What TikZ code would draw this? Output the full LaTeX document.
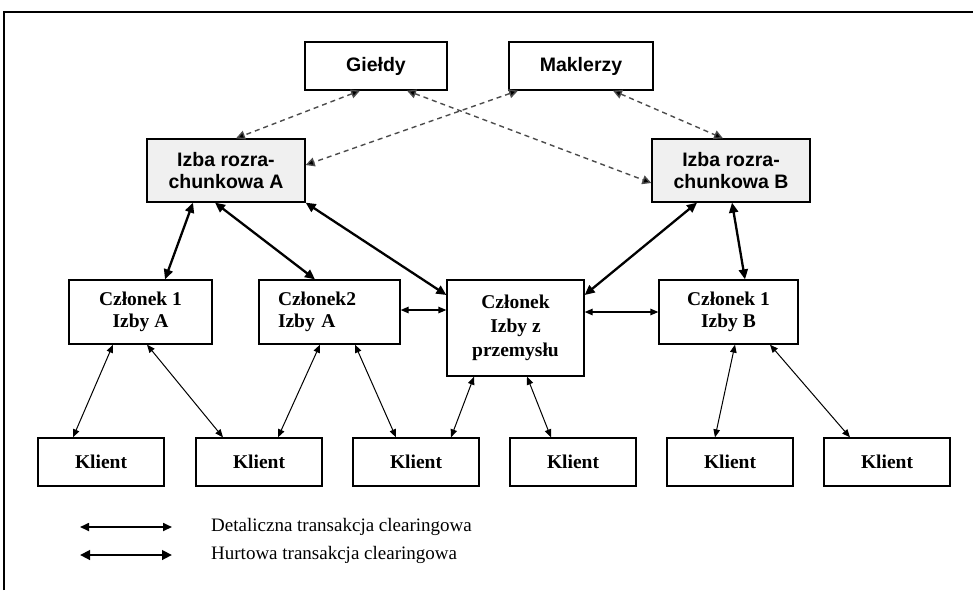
\documentclass[tikz,border=0pt]{standalone}
\usepackage{fontspec}
\setmainfont{Liberation Serif}
\newfontfamily\sansfont{Liberation Sans}
\usetikzlibrary{arrows.meta,calc}
\begin{document}
\begin{tikzpicture}[x=1pt,y=-1pt,
  box/.style={draw,line width=1.3pt,inner sep=0pt,align=center,font=\fontsize{19.5}{21.5}\selectfont\bfseries},
  topbox/.style={box,font=\sansfont\fontsize{19.5}{22}\selectfont\bfseries},
  izbabox/.style={topbox,fill=gray!12},
  klient/.style={box,minimum width=126pt,minimum height=48pt},
  thinarr/.style={line width=1pt,{Triangle[length=8pt,width=6.5pt]}-{Triangle[length=8pt,width=6.5pt]}},
  thickarr/.style={line width=2.3pt,{Triangle[length=10pt,width=9pt]}-{Triangle[length=10pt,width=9pt]}},
  dasharr/.style={line width=1.4pt,draw=black!70,dash pattern=on 5pt off 4pt,{Triangle[length=9pt,width=9pt,fill=black]}-{Triangle[length=9pt,width=9pt,fill=black]}},
]
\useasboundingbox (0,0) rectangle (973,590);
\draw[line width=1.5pt] (4,590) -- (4,12) -- (973,12);

% top
\node[topbox,minimum width=142pt,minimum height=48pt] (gieldy) at (376,66) {Giełdy};
\node[topbox,minimum width=144pt,minimum height=48pt] (maklerzy) at (581,66) {Maklerzy};
\node[izbabox,minimum width=158pt,minimum height=63pt] (izbaA) at (226,170.5) {Izba rozra-\\chunkowa A};
\node[izbabox,minimum width=158pt,minimum height=63pt] (izbaB) at (731,170.5) {Izba rozra-\\chunkowa B};

% members
\node[box,minimum width=143pt,minimum height=64pt] (c1a) at (140.5,312) {Członek 1\\Izby A};
\node[box,align=left,text width=103pt,inner xsep=19pt,minimum height=64pt] (c2a) at (329.5,312) {Członek2\\Izby A};
\node[box,minimum width=137pt,minimum height=96pt,font=\fontsize{19.5}{24}\selectfont\bfseries] (cp) at (515.5,328) {Członek\\Izby z\\przemysłu};
\node[box,minimum width=139pt,minimum height=64pt] (c1b) at (728.5,312) {Członek 1\\Izby B};

% clients
\node[klient] (k1) at (101,462) {Klient};
\node[klient] (k2) at (259,462) {Klient};
\node[klient] (k3) at (416,462) {Klient};
\node[klient] (k4) at (573,462) {Klient};
\node[klient] (k5) at (730,462) {Klient};
\node[klient] (k6) at (887,462) {Klient};

% dashed
\draw[dasharr] ($(gieldy.south)+(-16,0)$) -- ($(izbaA.north)+(10,0)$);
\draw[dasharr] ($(gieldy.south)+(31,0)$) -- ($(izbaB.west)+(0,12.5)$);
\draw[dasharr] ($(maklerzy.south)+(-63,0)$) -- ($(izbaA.east)+(0,-5.5)$);
\draw[dasharr] ($(maklerzy.south)+(32,0)$) -- ($(izbaB.north)+(-8,0)$);

% thick
\draw[thickarr] ($(izbaA.south)+(-33,0)$) -- ($(c1a.north)+(24.5,0)$);
\draw[thickarr] ($(izbaA.south)+(-11,0)$) -- ($(c2a.north)+(-14.5,0)$);
\draw[thickarr] (izbaA.south east) -- ($(cp.west)+(0,-33)$);
\draw[thickarr] ($(izbaB.south)+(-34,0)$) -- ($(cp.east)+(0,-33)$);
\draw[thickarr] ($(izbaB.south)+(1,0)$) -- ($(c1b.north)+(16.5,0)$);

% horizontal
\draw[thinarr,line width=1.3pt] ($(c2a.east)+(0,-2)$) -- ($(cp.west)+(0,-18)$);
\draw[thinarr,line width=1.3pt] ($(cp.east)+(0,-16)$) -- (c1b.west);

% thin
\draw[thinarr] ($(k1.north)+(-28,0)$) -- ($(c1a.south)+(-27.5,0)$);
\draw[thinarr] ($(k2.north)+(-36,0)$) -- ($(c1a.south)+(6.5,0)$);
\draw[thinarr] ($(k2.north)+(19,0)$) -- ($(c2a.south)+(-9.5,0)$);
\draw[thinarr] ($(k3.north)+(-20,0)$) -- ($(c2a.south)+(25.5,0)$);
\draw[thinarr] ($(k3.north)+(35,0)$) -- ($(cp.south)+(-41.5,0)$);
\draw[thinarr] ($(k4.north)+(-22,0)$) -- ($(cp.south)+(11.5,0)$);
\draw[thinarr] ($(k5.north)+(-15,0)$) -- ($(c1b.south)+(6.5,0)$);
\draw[thinarr] ($(k6.north)+(-37,0)$) -- ($(c1b.south)+(41.5,0)$);

% legend
\coordinate (l1a) at (80,527);
\coordinate (l1b) at (172,527);
\coordinate (l2a) at (80,555);
\coordinate (l2b) at (172,555);
\draw[line width=1.7pt,{Triangle[length=9pt,width=8pt]}-{Triangle[length=9pt,width=8pt]}] (l1a) -- (l1b);
\draw[line width=2.7pt,{Triangle[length=10pt,width=9.5pt]}-{Triangle[length=10pt,width=9.5pt]}] (l2a) -- (l2b);
\node[anchor=west,inner sep=0pt,font=\fontsize{19}{21}\selectfont] (t1) at (211,527) {Detaliczna transakcja clearingowa};
\node[anchor=west,inner sep=0pt,font=\fontsize{19}{21}\selectfont] (t2) at (211,555) {Hurtowa transakcja clearingowa};
\end{tikzpicture}
\end{document}
